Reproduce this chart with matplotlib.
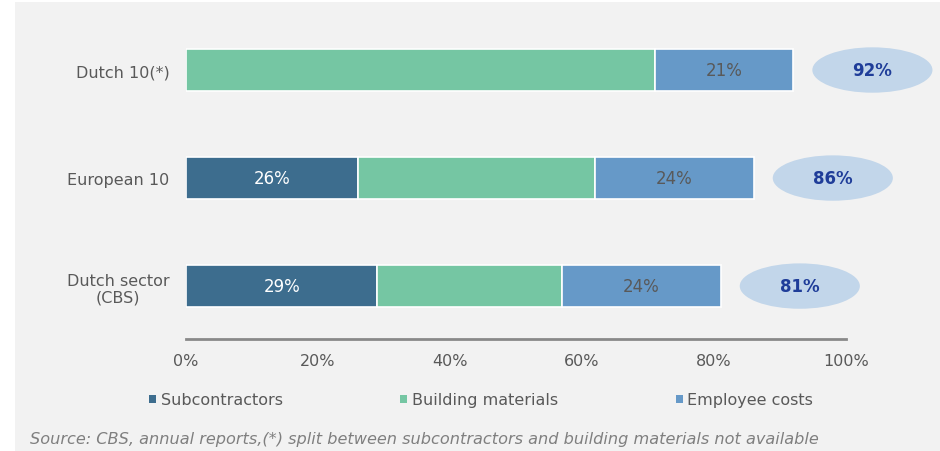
import matplotlib
matplotlib.use("Agg")
import matplotlib.pyplot as plt
from matplotlib.patches import Ellipse, Rectangle
import numpy as np

# Cost breakdown as share of revenue (%)
categories = ["Dutch sector\n(CBS)", "European 10", "Dutch 10(*)"]
subcontractors = [29, 26, 0]
building_materials = [28, 36, 71]
employee_costs = [24, 24, 21]
totals = [81, 86, 92]
series_names = ["Subcontractors", "Building materials", "Employee costs"]
x_ticks = [0, 20, 40, 60, 80, 100]

c_sub = "#3d6d8e"
c_mat = "#75c6a3"
c_emp = "#6699c8"
c_text = "#595959"
bg = "#f2f2f2"

fig = plt.figure(figsize=(9.4, 4.52), dpi=100)
fig.patch.set_facecolor("white")
fig.add_artist(Rectangle((15 / 940, 0), 1, 1 - 3 / 452, transform=fig.transFigure,
                         facecolor=bg, edgecolor="none", zorder=-10))

ax = fig.add_axes([186 / 940, (452 - 340) / 452, 660 / 940, 323 / 452])
ax.set_facecolor("none")

y = np.arange(len(categories))
h = 0.39
sub = np.array(subcontractors)
mat = np.array(building_materials)
emp = np.array(employee_costs)

b1 = ax.barh(y, sub, height=h, color=c_sub, edgecolor="white", linewidth=1.2,
             label=series_names[0])
b2 = ax.barh(y, mat, left=sub, height=h, color=c_mat, edgecolor="white", linewidth=1.2,
             label=series_names[1])
b3 = ax.barh(y, emp, left=sub + mat, height=h, color=c_emp, edgecolor="white", linewidth=1.2,
             label=series_names[2])

for i in range(len(categories)):
    if sub[i] > 0:
        ax.text(sub[i] / 2, y[i], f"{sub[i]}%", ha="center", va="center",
                color="white", fontsize=12)
    ax.text(sub[i] + mat[i] + emp[i] / 2, y[i], f"{emp[i]}%", ha="center", va="center",
            color=c_text, fontsize=12)
    # total badge to the right of each bar
    cx = totals[i] + 12
    ax.add_patch(Ellipse((cx, y[i]), 18.2, 0.42, facecolor="#c2d6ea", edgecolor="none",
                         clip_on=False))
    ax.text(cx, y[i], f"{totals[i]}%", ha="center", va="center", color="#1f3d99",
            fontsize=12, fontweight="bold", clip_on=False)

ax.set_xlim(0, 100)
ax.set_ylim(-0.49, 2.5)
ax.set_yticks(y)
ax.set_yticklabels(categories, fontsize=11.5, color=c_text, multialignment="center")
ax.set_xticks(x_ticks)
ax.set_xticklabels([f"{t}%" for t in x_ticks], fontsize=11.5, color=c_text)
ax.tick_params(axis="both", length=0)
ax.tick_params(axis="x", pad=10)
ax.tick_params(axis="y", pad=12)
for s in ["top", "right", "left"]:
    ax.spines[s].set_visible(False)
ax.spines["bottom"].set_color("#898989")
ax.spines["bottom"].set_linewidth(2)

leg = fig.legend(handles=[b1, b2, b3], labels=series_names, loc="center",
                 bbox_to_anchor=(481 / 940, (452 - 401) / 452), ncol=3, frameon=False,
                 handlelength=0.45, handleheight=0.45, handletextpad=0.3,
                 columnspacing=7.35, fontsize=11.5)
for t in leg.get_texts():
    t.set_color(c_text)
for hdl in leg.legend_handles:
    hdl.set_edgecolor("none")

fig.text(30 / 940, (452 - 440) / 452,
         "Source: CBS, annual reports,(*) split between subcontractors and building materials not available",
         ha="left", va="center", fontsize=11.6, style="italic", color="#7f7f7f")

fig.savefig("out.png", dpi=100, facecolor=fig.get_facecolor())
